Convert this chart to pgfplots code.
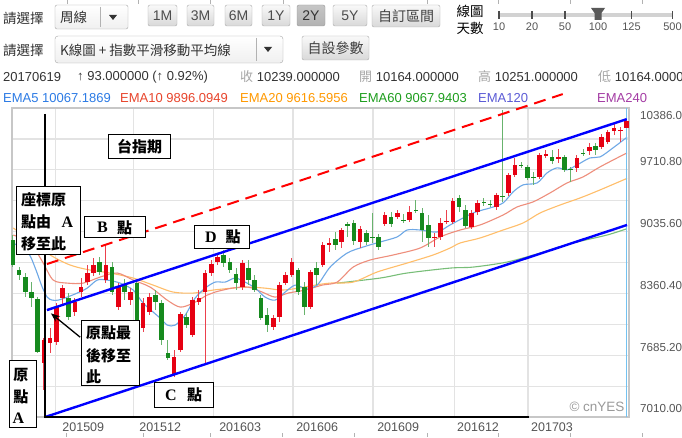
\documentclass[border=0pt]{standalone}
\usepackage{pgfplots}
\pgfplotsset{compat=1.18}
\usepackage{pgfplotstable}
\usepackage{fontspec}
\setmainfont{Liberation Sans}
\newfontfamily\cjk{Noto Sans CJK TC}
\newfontfamily\serif{Liberation Serif}
\usetikzlibrary{arrows.meta}
\definecolor{hdr}{HTML}{333333}
\definecolor{tickgray}{HTML}{555555}
\definecolor{gridc}{HTML}{E3E3E3}
\definecolor{candleup}{HTML}{E60012}
\definecolor{candledn}{HTML}{168A1E}
\definecolor{emafive}{HTML}{6EA8E6}
\definecolor{ematen}{HTML}{EE8E7C}
\definecolor{ematwenty}{HTML}{FFBE6A}
\definecolor{emasixty}{HTML}{78BE78}
\definecolor{tfive}{HTML}{2C7BE5}
\definecolor{tten}{HTML}{E8452C}
\definecolor{ttwenty}{HTML}{FF9900}
\definecolor{tsixty}{HTML}{1E9E1E}
\definecolor{tonetwenty}{HTML}{5B5BD6}
\definecolor{ttwoforty}{HTML}{A43CA4}
\definecolor{cursor}{HTML}{74C2F0}

\pgfplotstableread{
i o h l c
5 7598 7871 7302 7849
6 7817 7981 7707 7871
7 7828 8254 7795 8211
8 8309 8451 8232 8418
10 8156 8309 8112 8265
11 8375 8528 8320 8429
12 8484 8670 8451 8583
13 8583 8747 8550 8670
15 8506 8889 8473 8670
17 8211 8473 8178 8429
19 8287 8418 8232 8375
21 7981 8309 7937 8254
22 8156 8364 8123 8320
26 7466 7740 7444 7663
27 7740 8156 7718 8134
29 7904 8320 7882 8287
30 8265 8397 8232 8309
31 8375 8615 7598 8583
32 8583 8725 8550 8681
33 8703 8801 8670 8758
37 8429 8725 8397 8692
42 7992 8123 7959 8090
43 8101 8484 8046 8451
44 8473 8594 8451 8561
45 8561 8747 8539 8703
48 8211 8615 8189 8594
50 8670 8922 8648 8889
51 8900 8966 8812 8911
53 8922 9075 8856 9053
56 8922 9097 8856 9064
60 9119 9250 9097 9217
62 9195 9272 9174 9239
64 9163 9316 9141 9250
68 8966 9020 8867 8977
69 8977 9185 8944 9130
70 9141 9272 9119 9152
71 9141 9403 9119 9370
74 9086 9272 9064 9239
75 9250 9381 9217 9349
78 9305 9458 9272 9436
80 9458 9677 9425 9655
81 9655 9841 9633 9764
85 9633 9896 9611 9874
86 9863 9929 9841 9885
88 9830 9940 9786 9852
91 9732 9874 9688 9841
93 9918 10005 9874 9961
95 9961 10104 9940 10071
96 10016 10147 9994 10126
97 10136 10213 10093 10169
98 10136 10180 10016 10147
99 10164 10251 10164 10239
}\upcandles

\pgfplotstableread{
i o h l c
0 8944 8998 8648 8670
1 8615 8648 8506 8561
2 8539 8583 8320 8375
3 8375 8484 8211 8309
4 8298 8320 7707 7718
9 8309 8364 8068 8101
14 8703 8758 8561 8594
16 8648 8703 8342 8375
18 8451 8517 8287 8375
20 8473 8506 7959 7981
23 8342 8397 8178 8265
24 8254 8287 7795 7849
25 7707 7849 7631 7652
28 8101 8145 7981 8014
34 8780 8834 8648 8692
35 8703 8747 8583 8615
36 8572 8637 8397 8473
38 8637 8725 8451 8506
39 8506 8561 8375 8397
40 8309 8342 8068 8090
41 8123 8200 7937 8014
46 8615 8637 8342 8375
47 8429 8484 8123 8211
49 8637 8703 8451 8561
52 8955 9031 8834 8889
54 9119 9141 8977 9097
55 9130 9163 8889 8933
57 9020 9053 8889 8922
58 8977 9239 8911 8966
59 8977 9009 8834 8867
61 9195 9250 9086 9119
63 9163 9228 9130 9152
65 9272 9381 9239 9261
66 9239 9294 8922 9053
67 9108 9217 8867 8966
72 9403 9436 9250 9305
73 9272 9327 9075 9097
76 9360 9403 9316 9349
77 9338 9381 9305 9327
79 9425 10366 9360 9414
82 9764 9797 9732 9753
83 9742 9764 9600 9622
84 9633 9688 9546 9622
87 9852 9929 9775 9808
89 9852 9874 9688 9710
90 9721 9743 9578 9710
92 9896 9940 9863 9885
94 9972 10005 9874 9929
}\dncandles

\begin{document}
\begin{tikzpicture}[x=1pt,y=1pt]
\useasboundingbox (0,0) rectangle (682,437);
\fill[white] (0,0) rectangle (682,437);
\begin{axis}[
  at={(12pt,20pt)}, anchor=south west, scale only axis,
  width=617pt, height=309pt,
  xmin=-0.15, xmax=99.4, ymin=7010, ymax=10386,
  clip=false,
  scaled y ticks=false, scaled x ticks=false,
  axis line style={draw=black!22, line width=1.2pt},
  major tick length=0pt, minor tick length=0pt,
  ytick={7010,7685.2,8360.4,9035.6,9710.8},
  yticklabels={7010.00,7685.20,8360.40,9035.60,9710.80},
  minor ytick={7347.6,8022.8,8698,9373.2,10048.4},
  extra y ticks={10386}, extra y tick labels={10386.00},
  extra y tick style={grid=none, yticklabel style={yshift=-16pt}},
  yticklabel pos=right,
  yticklabel style={anchor=west, inner sep=0pt, xshift=11pt, yshift=8pt, font=\fontsize{11.6}{14}\selectfont, text=tickgray},
  xtick={6.82,19.4,32.3,45.2,58.1,71.2,83.1}, xticklabels={},
  extra x ticks={11.35,23.76,36.66,49.08,62.15,75.05,86.98},
  extra x tick labels={201509,201512,201603,201606,201609,201612,201703},
  extra x tick style={grid=none},
  xticklabel style={anchor=north, inner sep=0pt, yshift=-6pt, font=\fontsize{12.5}{14}\selectfont, text=tickgray},
  xmajorgrids, ymajorgrids, yminorgrids,
  major grid style={draw=gridc, line width=1.2pt},
  minor grid style={draw=gridc, line width=1.2pt},
]
% EMA lines
\addplot[emasixty, line width=1.1pt, smooth] coordinates {
(52.31,8473) (59.24,8528) (63.6,8583) (70.53,8637) (74.24,8648) (79.73,8703) (85.05,8801) (90.37,8911) (95.85,8998) (99.08,9068)};
\addplot[ematwenty, line width=1.1pt, smooth] coordinates {
(0.05,9075) (2.79,8944) (6.02,8780) (9.24,8670) (12.47,8615) (15.69,8583) (19.4,8528) (22.63,8451) (25.85,8375) (29.08,8364) (32.31,8397) (35.37,8418) (37.95,8429) (40.69,8418) (43.44,8397) (46.02,8418) (48.76,8451) (51.18,8473) (54.89,8484) (58.76,8594) (63.6,8692) (67.79,8780) (70.53,8856) (72.15,8911) (75.37,8966) (79.08,9053) (82.31,9130) (85.05,9239) (88.31,9327) (91.5,9403) (94.73,9491) (99.08,9617)};
\addplot[ematen, line width=1.1pt, smooth] coordinates {
(0.05,8998) (1.98,8944) (3.6,8834) (4.89,8692) (6.5,8506) (8.76,8473) (11.34,8473) (14.08,8539) (16.82,8583) (19.4,8506) (22.15,8429) (24.89,8287) (26.98,8211) (29.08,8254) (31.34,8342) (32.63,8375) (35.37,8418) (37.95,8429) (40.21,8375) (42.31,8320) (44.40,8364) (47.15,8397) (49.89,8451) (52.31,8484) (54.89,8648) (57.63,8725) (61.34,8780) (65.69,8856) (68.92,8977) (72.15,9053) (75.37,9108) (79.08,9217) (81.34,9305) (83.92,9360) (86.66,9458) (89.4,9567) (91.98,9633) (94.73,9743) (99.08,9896)};
\addplot[emafive, line width=1.1pt, smooth] coordinates {
(0.05,8911) (2.47,8801) (3.6,8637) (4.73,8429) (5.53,8320) (6.34,8287) (7.31,8287) (8.76,8320) (10.37,8364) (11.98,8418) (13.6,8506) (15.21,8506) (17.31,8473) (19.4,8397) (21.02,8254) (23.76,8090) (24.89,8014) (26.18,8014) (27.79,8123) (29.4,8309) (31.02,8418) (32.63,8484) (34.24,8484) (35.85,8528) (37.47,8484) (39.08,8418) (40.69,8320) (42.31,8287) (43.92,8375) (45.53,8451) (47.15,8418) (49.08,8451) (51.18,8648) (53.92,8801) (56.5,8867) (59.24,8922) (61.98,8977) (63.6,9053) (65.69,9053) (68.44,9031) (70.53,9108) (74.24,9239) (76.98,9294) (79.08,9349) (80.69,9469) (82.31,9546) (84.56,9567) (86.18,9677) (87.79,9732) (89.4,9710) (91.02,9764) (93.11,9841) (94.73,9852) (96.82,9950) (99.08,10067)};
% cursor line
\addplot[cursor, line width=1.5pt] coordinates {(99.0,7010) (99.0,10386)};
% wicks
\addplot[draw=none, mark=none, error bars/.cd, y dir=both, y explicit, error mark=none,
  error bar style={draw=candleup!75, line width=1pt}]
  table[x=i, y expr={(\thisrow{h}+\thisrow{l})/2}, y error expr={(\thisrow{h}-\thisrow{l})/2}] {\upcandles};
\addplot[draw=none, mark=none, error bars/.cd, y dir=both, y explicit, error mark=none,
  error bar style={draw=candledn!65, line width=1pt}]
  table[x=i, y expr={(\thisrow{h}+\thisrow{l})/2}, y error expr={(\thisrow{h}-\thisrow{l})/2}] {\dncandles};
% bodies
\addplot[draw=none, mark=none, error bars/.cd, y dir=both, y explicit, error mark=none,
  error bar style={draw=candleup, line width=4.6pt}]
  table[x=i, y expr={(\thisrow{o}+\thisrow{c})/2}, y error expr={max(abs(\thisrow{c}-\thisrow{o})/2,6)}] {\upcandles};
\addplot[draw=none, mark=none, error bars/.cd, y dir=both, y explicit, error mark=none,
  error bar style={draw=candledn, line width=4.6pt}]
  table[x=i, y expr={(\thisrow{o}+\thisrow{c})/2}, y error expr={max(abs(\thisrow{c}-\thisrow{o})/2,6)}] {\dncandles};
% hand-drawn channel
\addplot[blue, line width=2.4pt] coordinates {(5.21,7010) (99.08,9108)};
\addplot[blue, line width=2.4pt] coordinates {(5.48,8178) (99.03,10264)};
\addplot[red, line width=2pt, dash pattern=on 12pt off 7pt] coordinates {(5.48,8681) (88.71,10538)};
\addplot[black, line width=1.8pt] coordinates {(5.21,10323) (5.21,7010) (83.27,7010)};
\addplot[black, line width=1.3pt, -{Stealth[length=9pt,width=7pt]}] coordinates {(10.85,7882) (6.13,8142)};
\end{axis}

\begin{scope}[x=1pt,y=-1pt,yshift=437pt]
% top stub ticks
\foreach \xx in {67,138,210,283,427,498,570,642} \draw[gray!60, line width=0.8pt] (\xx,0) -- (\xx,4);
\foreach \xx in {66.7,143.3,210.7,282,354,427,498,570,642} \draw[gray!60, line width=0.8pt] (\xx,433) -- (\xx,437);
% row 1
\node[anchor=west, inner sep=0, text=hdr, font=\cjk\fontsize{13.5}{15}\selectfont] at (3,18) {請選擇};
\draw[rounded corners=2pt, draw=gray!70, top color=white, bottom color=gray!12] (55,5) rectangle (128,29);
\draw[gray!60] (100,7) -- (100,27);
\node[anchor=west, inner sep=0, text=hdr, font=\cjk\fontsize{13.5}{15}\selectfont] at (60,17) {周線};
\fill[black!80] (109,15) -- (117,15) -- (113,20) -- cycle;
\foreach \a/\b/\t in {148/177/1M,187/214/3M,225/252/6M,262/290/1Y,333/367/5Y}{
  \draw[rounded corners=2pt, draw=gray!65, top color=gray!5, bottom color=gray!30] (\a,5) rectangle (\b,26);
  \node[text=black!70, font=\fontsize{14}{16}\selectfont] at ({(\a+\b)/2},15.5) {\t};
}
\draw[rounded corners=2pt, draw=gray!80, top color=gray!45, bottom color=gray!60] (297,5) rectangle (325,26);
\node[text=black!80, font=\fontsize{14}{16}\selectfont] at (311,15.5) {2Y};
\draw[rounded corners=2pt, draw=gray!65, top color=gray!5, bottom color=gray!30] (372,5) rectangle (440,27);
\node[text=black!75, font=\cjk\fontsize{14}{16}\selectfont] at (406,16) {自訂區間};
\node[text=black, font=\cjk\fontsize{13.5}{15}\selectfont] at (470,11.5) {線圖};
\node[text=black, font=\cjk\fontsize{13.5}{15}\selectfont] at (470,28) {天數};
\draw[gray!35, line width=4pt] (499,15) -- (672,15);
\foreach \xx/\t in {499/10,532/20,565/50,598/100,631.5/125,672.5/500}{
  \draw[black!70, line width=1.5pt] (\xx,11) -- (\xx,19);
  \node[text=tickgray, font=\fontsize{11}{12}\selectfont] at (\xx,27) {\t};
}
\fill[black!65] (591,8) -- (605,8) -- (601.5,13) -- (601.5,20) -- (594.5,20) -- (594.5,13) -- cycle;
% row 2
\node[anchor=west, inner sep=0, text=hdr, font=\cjk\fontsize{13.5}{15}\selectfont] at (3,50) {請選擇};
\draw[rounded corners=3pt, draw=gray!70, top color=white, bottom color=gray!12] (55,36) rectangle (283,63);
\draw[gray!60] (256,38) -- (256,61);
\node[anchor=west, inner sep=0, text=hdr, font=\cjk\fontsize{13.5}{15}\selectfont] at (60,50) {K線圖 + 指數平滑移動平均線};
\fill[black!80] (264,47) -- (272,47) -- (268,52) -- cycle;
\draw[rounded corners=2pt, draw=gray!65, top color=gray!5, bottom color=gray!30] (302,36) rectangle (369,60);
\node[text=black!75, font=\cjk\fontsize{14}{16}\selectfont] at (335.5,48) {自設參數};
% row 3
\begin{scope}[every node/.style={anchor=west, inner sep=0, text=hdr, font=\fontsize{13}{15}\selectfont}]
\node at (3,76.7) {20170619};
\node at (77,76.7) {↑ 93.000000 (↑ 0.92\%)};
\node at (240,76.7) {{\cjk\color{gray!70}收} 10239.000000};
\node at (359,76.7) {{\cjk\color{gray!70}開} 10164.000000};
\node at (478,76.7) {{\cjk\color{gray!70}高} 10251.000000};
\node at (598,76.7) {{\cjk\color{gray!70}低} 10164.000000};
\node[text=tfive] at (3,97.7) {EMA5 10067.1869};
\node[text=tten] at (120,97.7) {EMA10 9896.0949};
\node[text=ttwenty] at (240,97.7) {EMA20 9616.5956};
\node[text=tsixty] at (359,97.7) {EMA60 9067.9403};
\node[text=tonetwenty] at (478,97.7) {EMA120};
\node[text=ttwoforty] at (597,97.7) {EMA240};
\end{scope}
% watermark
\node[text=gray!80, font=\fontsize{13.5}{15}\selectfont] at (597,407) {© cnYES};
% annotation boxes
\begin{scope}[every node/.style={inner sep=0, font=\cjk\bfseries\fontsize{15}{17}\selectfont}]
\draw[black, fill=white, line width=0.9pt] (108.3,134.3) rectangle (170.7,158.3);
\node at (139.5,146.3) {台指期};
\draw[black, fill=white, line width=0.9pt] (16.7,186.7) rectangle (80.7,254);
\node[anchor=west] at (21,200) {座標原};
\node[anchor=west] at (21,222) {點由};
\node[font=\serif\bfseries\fontsize{16}{17}\selectfont] at (67.5,222) {A};
\node[anchor=west] at (21,244) {移至此};
\draw[black, fill=white, line width=0.9pt] (84.3,216.7) rectangle (145.7,237.7);
\node[font=\serif\bfseries\fontsize{16}{17}\selectfont] at (102.5,227.5) {B};
\node at (124.5,227.5) {點};
\draw[black, fill=white, line width=0.9pt] (194.3,225.7) rectangle (249.3,248.3);
\node[font=\serif\bfseries\fontsize{16}{17}\selectfont] at (210.8,237) {D};
\node at (233,237) {點};
\draw[black, fill=white, line width=0.9pt] (81.7,320) rectangle (139.3,385.7);
\node[anchor=west] at (86,333) {原點最};
\node[anchor=west] at (86,356) {後移至};
\node[anchor=west] at (86,377) {此};
\draw[black, fill=white, line width=0.9pt] (9.3,360.7) rectangle (36.7,427.3);
\node at (20.8,375) {原};
\node at (20.8,397) {點};
\node[font=\serif\bfseries\fontsize{16}{17}\selectfont] at (18.5,418) {A};
\draw[black, fill=white, line width=0.9pt] (154,382.7) rectangle (213.3,407.3);
\node[font=\serif\bfseries\fontsize{16}{17}\selectfont] at (170.8,395) {C};
\node at (194.5,395) {點};
\end{scope}
\end{scope}
\end{tikzpicture}
\end{document}
